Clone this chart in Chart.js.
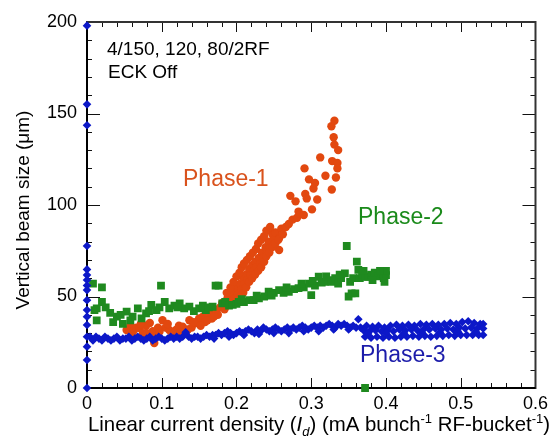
<!DOCTYPE html>
<html>
<head>
<meta charset="utf-8">
<script src="https://cdn.jsdelivr.net/npm/chart.js@4/dist/chart.umd.min.js"></script>
<style>
  html, body { margin: 0; padding: 0; background: #fff; }
</style>
</head>
<body>
<canvas id="myChart" width="553" height="440"></canvas>
<script>
const FONT = '"Liberation Sans", Arial, sans-serif';

const xTicks = [0, 0.1, 0.2, 0.3, 0.4, 0.5, 0.6];
const yTicks = [0, 50, 100, 150, 200];

// Phase-1 (orange circles) [Id, size]
const phase1 = [
    [0.053, 31.7], [0.058, 34], [0.062, 31], [0.066, 33], [0.07, 32.8], [0.075, 30],
    [0.079, 34], [0.084, 35.5], [0.088, 31], [0.09, 24.6], [0.093, 29], [0.097, 30.8],
    [0.101, 37], [0.105, 33], [0.11, 31.7], [0.114, 29], [0.119, 31.7], [0.123, 34],
    [0.128, 33.5], [0.132, 30], [0.137, 37], [0.14, 33], [0.146, 35.5], [0.15, 38],
    [0.155, 39], [0.158, 36], [0.164, 40.8], [0.167, 38], [0.172, 42.6], [0.175, 40],
    [0.181, 46.4], [0.184, 43], [0.188, 49], [0.186, 45],
    [0.19, 50], [0.193, 47], [0.195, 52], [0.198, 49], [0.2, 55], [0.202, 51],
    [0.205, 57], [0.207, 54], [0.209, 60], [0.211, 57], [0.213, 62], [0.215, 59],
    [0.217, 65], [0.219, 62], [0.221, 67], [0.223, 64], [0.225, 69], [0.227, 66],
    [0.23, 71], [0.232, 68], [0.234, 74], [0.236, 71], [0.239, 77], [0.241, 74],
    [0.243, 80], [0.245, 77], [0.248, 84], [0.25, 81], [0.252, 85], [0.257, 75.4],
    [0.257, 82], [0.26, 87], [0.266, 88], [0.27, 89.6], [0.272, 105], [0.275, 92],
    [0.279, 102], [0.281, 93], [0.283, 96.4], [0.285, 95], [0.29, 94.5], [0.291, 120],
    [0.292, 106], [0.294, 103.6], [0.297, 114], [0.301, 97.6], [0.303, 109], [0.305, 112],
    [0.308, 103], [0.312, 126], [0.319, 116], [0.327, 143], [0.3275, 108.5], [0.328, 124],
    [0.33, 137], [0.331, 146], [0.331, 133], [0.333, 115], [0.335, 123], [0.335, 120],
    [0.336, 130],
    [0.183, 47], [0.187, 52], [0.192, 55], [0.196, 58], [0.2, 61], [0.204, 63], [0.207, 66],
    [0.21, 68], [0.214, 70], [0.218, 72], [0.222, 74], [0.226, 76], [0.229, 79], [0.233, 81],
    [0.237, 83], [0.24, 86], [0.245, 88],
    [0.196, 46], [0.2, 48], [0.205, 50], [0.209, 52], [0.213, 55], [0.217, 58], [0.221, 60],
    [0.225, 62], [0.229, 64], [0.233, 66], [0.237, 69], [0.24, 72], [0.244, 74], [0.248, 77],
    [0.252, 79], [0.256, 81], [0.262, 84],
    [0.06, 29], [0.072, 35], [0.08, 30], [0.095, 33], [0.108, 35], [0.125, 30.5], [0.135, 32],
    [0.143, 36], [0.152, 34], [0.161, 37], [0.17, 39], [0.178, 44]
];

// Phase-2 (green squares)
const phase2 = [
    [0.008, 57], [0.02, 55], [0.01, 42.6], [0.013, 37], [0.013, 43.5], [0.02, 47],
    [0.031, 41], [0.035, 36], [0.04, 39], [0.048, 35], [0.053, 41.7], [0.061, 39],
    [0.068, 43.5], [0.073, 38], [0.079, 40.8], [0.086, 45.4], [0.093, 42.6], [0.099, 56],
    [0.104, 47], [0.11, 43.5], [0.117, 45], [0.124, 46.3], [0.13, 43.5], [0.137, 44.5],
    [0.143, 42], [0.15, 43.5], [0.159, 42.6], [0.168, 44.4], [0.172, 56], [0.176, 56],
    [0.181, 46.3], [0.185, 47], [0.19, 45], [0.195, 45.4], [0.2, 46], [0.203, 47],
    [0.21, 47], [0.217, 48], [0.223, 48], [0.23, 49], [0.237, 50], [0.243, 52.6],
    [0.25, 52], [0.257, 53.5], [0.263, 52], [0.27, 52.6], [0.277, 54], [0.283, 54.6],
    [0.29, 55], [0.297, 57], [0.3, 50.8], [0.305, 56], [0.31, 60.8], [0.314, 57.6],
    [0.318, 58], [0.323, 59], [0.327, 58], [0.332, 60], [0.336, 57], [0.34, 60],
    [0.345, 62.6], [0.3475, 77.6], [0.35, 50], [0.354, 51.7], [0.356, 60], [0.359, 51.7],
    [0.361, 69], [0.363, 64.5], [0.365, 60], [0.368, 62], [0.372, 60.8], [0.372, 0],
    [0.376, 60.8], [0.38, 62], [0.385, 63], [0.39, 61], [0.394, 62.6], [0.397, 60],
    [0.4, 61.7], [0.4, 64], [0.398, 58],
    [0.025, 44], [0.045, 40], [0.058, 37], [0.083, 42], [0.097, 44], [0.121, 44], [0.155, 45],
    [0.163, 44], [0.207, 48.5], [0.227, 50.5], [0.247, 50.5], [0.267, 55], [0.287, 57],
    [0.302, 58.5], [0.32, 61], [0.338, 62], [0.352, 58], [0.37, 64], [0.382, 59], [0.392, 64]
];

// Phase-3 (blue diamonds)
const phase3 = [
    [0, 198], [0, 155], [0, 143.6], [0, 77.6], [0, 64.8], [0, 61.7], [0, 59], [0, 56],
    [0, 53.5], [0, 48], [0, 42.6], [0, 39], [0, 34.4], [0, 28], [0, 22.6], [0, 15.3], [0, 0],
    [0.004, 28], [0.008, 26], [0.012, 28], [0.016, 27], [0.02, 26], [0.024, 28], [0.028, 27],
    [0.032, 26], [0.036, 27], [0.04, 28], [0.044, 26], [0.048, 27], [0.052, 27], [0.056, 28],
    [0.06, 26], [0.064, 27], [0.068, 28], [0.072, 27], [0.076, 26], [0.08, 27], [0.084, 28],
    [0.088, 26], [0.092, 27], [0.096, 28], [0.1, 27], [0.104, 26], [0.108, 27], [0.112, 28],
    [0.116, 27], [0.12, 28], [0.124, 27], [0.128, 28], [0.132, 30.5], [0.136, 28], [0.14, 27],
    [0.144, 28], [0.148, 28], [0.152, 27], [0.156, 28], [0.16, 29], [0.164, 28], [0.168, 29],
    [0.172, 29], [0.176, 30], [0.18, 29], [0.184, 30], [0.188, 31], [0.192, 30], [0.196, 29],
    [0.2, 30], [0.204, 31], [0.208, 30], [0.212, 31], [0.216, 32], [0.22, 31], [0.224, 30],
    [0.228, 32], [0.232, 31], [0.236, 33], [0.24, 32], [0.244, 31], [0.248, 32], [0.252, 33],
    [0.256, 32], [0.26, 31], [0.264, 32], [0.268, 33], [0.272, 32], [0.276, 33], [0.28, 32],
    [0.284, 33], [0.288, 34], [0.292, 33], [0.296, 32], [0.3, 33], [0.304, 34], [0.308, 33],
    [0.312, 34], [0.316, 33], [0.32, 34], [0.324, 35], [0.328, 34], [0.332, 33], [0.336, 35],
    [0.34, 34], [0.344, 35], [0.348, 34], [0.352, 33], [0.356, 34], [0.36, 33], [0.363, 37.6],
    [0.17, 27], [0.19, 28], [0.21, 29], [0.23, 29.5], [0.25, 30], [0.27, 30], [0.29, 31],
    [0.31, 31], [0.33, 32], [0.35, 32],
    [0.366, 33], [0.374, 34], [0.382, 33.5], [0.39, 34], [0.398, 33], [0.406, 34], [0.414, 34.5],
    [0.422, 34], [0.43, 34.5], [0.438, 34], [0.446, 35], [0.454, 34.5], [0.462, 35], [0.47, 34.5],
    [0.478, 35], [0.486, 35.5], [0.494, 35], [0.502, 36], [0.51, 36.5], [0.518, 35.5],
    [0.526, 35], [0.53, 35],
    [0.37, 31.5], [0.378, 31], [0.386, 31.5], [0.394, 31], [0.402, 31.5], [0.41, 31], [0.418, 32],
    [0.426, 31.5], [0.434, 32], [0.442, 31.5], [0.45, 32], [0.458, 32], [0.466, 32.5], [0.474, 32],
    [0.482, 32.5], [0.49, 32], [0.498, 33], [0.506, 32.5], [0.514, 33], [0.522, 32.5], [0.53, 32.5],
    [0.372, 28], [0.38, 27.5], [0.388, 28], [0.396, 27.5], [0.404, 28], [0.412, 27.5], [0.42, 28],
    [0.428, 28], [0.436, 28.5], [0.444, 28], [0.452, 28.5], [0.46, 28], [0.468, 28.5], [0.476, 28.5],
    [0.484, 29], [0.492, 28.5], [0.5, 29], [0.508, 29], [0.516, 29], [0.524, 29], [0.53, 29],
    [0.376, 30], [0.4, 30], [0.424, 30], [0.448, 30.5], [0.472, 30.5], [0.496, 31], [0.52, 31]
];

const toPoints = (arr) => arr.map((p) => ({ x: p[0], y: p[1] }));

// frame with inward major + minor ticks on all four sides
const framePlugin = {
    id: 'frame',
    beforeDatasetsDraw(chart) {
        const { ctx, chartArea: a, scales: { x, y } } = chart;
        ctx.save();
        ctx.strokeStyle = '#111';
        ctx.lineWidth = 1;
        ctx.beginPath();
        for (let i = 0; i <= 30; i++) {
            const px = Math.round(x.getPixelForValue(i * 0.02)) + 0.5;
            const len = i % 5 === 0 ? 10 : 5;
            ctx.moveTo(px, a.bottom); ctx.lineTo(px, a.bottom - len);
            ctx.moveTo(px, a.top); ctx.lineTo(px, a.top + len);
        }
        for (let i = 0; i <= 20; i++) {
            const py = Math.round(y.getPixelForValue(i * 10)) + 0.5;
            const len = i % 5 === 0 ? 13 : 5;
            ctx.moveTo(a.left, py); ctx.lineTo(a.left + len, py);
            ctx.moveTo(a.right, py); ctx.lineTo(a.right - len, py);
        }
        ctx.stroke();
        ctx.lineWidth = 2;
        ctx.strokeStyle = '#333';
        ctx.strokeRect(a.left, a.top, a.right - a.left, a.bottom - a.top);
        ctx.strokeStyle = '#000';
        ctx.beginPath();
        ctx.moveTo(a.left, a.top); ctx.lineTo(a.left, a.bottom); ctx.lineTo(a.right, a.bottom);
        ctx.stroke();
        ctx.restore();
    },
    afterDraw(chart) {
        const { ctx } = chart;
        ctx.save();
        ctx.textBaseline = 'alphabetic';
        ctx.textAlign = 'left';

        ctx.fillStyle = '#000';
        ctx.font = '19px ' + FONT;
        ctx.fillText('4/150, 120, 80/2RF', 107, 55);
        ctx.fillText('ECK Off', 108, 78);

        ctx.font = '23px ' + FONT;
        ctx.fillStyle = '#d9521c';
        ctx.fillText('Phase-1', 183, 186);
        ctx.fillStyle = '#1a8a1a';
        ctx.fillText('Phase-2', 358, 224);
        ctx.fillStyle = '#1c1caa';
        ctx.fillText('Phase-3', 360, 362);

        // y title
        ctx.fillStyle = '#000';
        ctx.font = '19px ' + FONT;
        ctx.save();
        ctx.translate(29, 210);
        ctx.rotate(-Math.PI / 2);
        ctx.textAlign = 'center';
        ctx.fillText('Vertical beam size (\u03bcm)', 0, 0);
        ctx.restore();

        // x title with italic I, subscript d, superscript -1
        const base = 431;
        const big = '20.4px ' + FONT;
        const small = '13px ' + FONT;
        const parts = [
            ['Linear current density (', big, 0],
            ['I', 'italic ' + big, 0],
            ['d', 'italic ' + small, 5],
            [') (mA bunch', big, 0],
            ['-1', small, -8],
            [' RF-bucket', big, 0],
            ['-1', small, -8],
            [')', big, 0]
        ];
        let cx = 88;
        for (const [t, f, dy] of parts) {
            ctx.font = f;
            ctx.fillText(t, cx, base + dy);
            cx += ctx.measureText(t).width;
        }
        ctx.restore();
    }
};

const data = {
    datasets: [{
            label: 'Phase-3',
            data: toPoints(phase3),
            pointStyle: 'rectRot',
            radius: 4.3,
            backgroundColor: '#0c18c8',
            borderColor: '#0c18c8',
            borderWidth: 0,
            clip: 10
        },
        {
            label: 'Phase-2',
            data: toPoints(phase2),
            pointStyle: 'rect',
            radius: 5.5,
            backgroundColor: '#1f8a1f',
            borderColor: '#1f8a1f',
            borderWidth: 0,
            clip: 10
        },
        {
            label: 'Phase-1',
            data: toPoints(phase1),
            pointStyle: 'circle',
            radius: 4.2,
            backgroundColor: '#e2480f',
            borderColor: '#e2480f',
            borderWidth: 0,
            clip: 10
        }
    ]
};

const tickFont = { family: FONT, size: 18 };

const config = {
    type: 'scatter',
    data,
    options: {
        responsive: false,
        animation: false,
        layout: { padding: { left: 0, right: 15, top: 22, bottom: 0 } },
        plugins: { legend: { display: false }, tooltip: { enabled: false } },
        scales: {
            x: {
                type: 'linear',
                min: 0,
                max: 0.6,
                afterFit: (s) => { s.height = 52; },
                afterBuildTicks: (s) => { s.ticks = xTicks.map((v) => ({ value: v })); },
                grid: { display: false, drawTicks: false },
                border: { display: false },
                ticks: {
                    padding: 5,
                    color: '#000',
                    font: tickFont,
                    maxRotation: 0,
                    callback: (v) => (v === 0 ? '0' : v.toFixed(1))
                }
            },
            y: {
                min: 0,
                max: 200,
                afterFit: (s) => { s.width = 87; },
                afterBuildTicks: (s) => { s.ticks = yTicks.map((v) => ({ value: v })); },
                grid: { display: false, drawTicks: false },
                border: { display: false },
                ticks: { padding: 10, color: '#000', font: tickFont }
            }
        }
    },
    plugins: [framePlugin]
};

let myChart = new Chart(document.getElementById('myChart'), config);
</script>
</body>
</html>
